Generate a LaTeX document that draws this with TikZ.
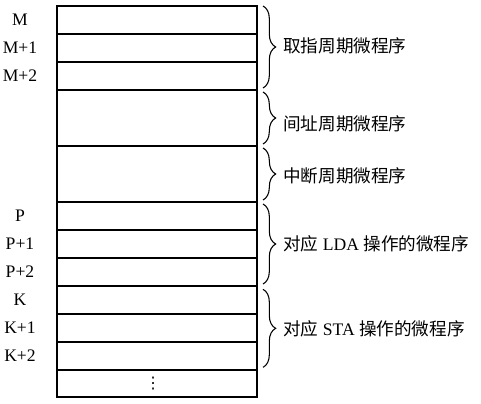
\documentclass[tikz,border=0pt]{standalone}
\usepackage{fontspec}
\setmainfont{Liberation Serif}
\newfontfamily\cjk{Noto Sans CJK SC}
\newfontfamily\symf{DejaVu Sans}
\usetikzlibrary{calc,positioning,decorations.pathreplacing}
\tikzset{
  cell/.style={draw, line width=1.1pt, minimum width=150pt, minimum height=21pt, inner sep=0pt, outer sep=0pt},
  bigcell/.style={cell, minimum height=42pt},
  addr/.style={font=\fontsize{13.2}{16}\selectfont, inner sep=0pt},
  note/.style={font=\fontsize{13.2}{16}\selectfont, inner sep=0pt, anchor=west},
  curly/.style={decorate, decoration={brace, amplitude=9.5pt}, line width=0.8pt}
}
\begin{document}
\begin{tikzpicture}[x=0.75pt,y=-0.75pt]
  \useasboundingbox (0,0) rectangle (481,403);

  % control store
  \node[cell] (m0) at (157,20) {};
  \node[cell, below=0pt of m0] (m1) {};
  \node[cell, below=0pt of m1] (m2) {};
  \node[bigcell, below=0pt of m2] (ind) {};
  \node[bigcell, below=0pt of ind] (intr) {};
  \node[cell, below=0pt of intr] (p0) {};
  \node[cell, below=0pt of p0] (p1) {};
  \node[cell, below=0pt of p1] (p2) {};
  \node[cell, below=0pt of p2] (k0) {};
  \node[cell, below=0pt of k0] (k1) {};
  \node[cell, below=0pt of k1] (k2) {};
  \node[cell, minimum height=20.25pt, below=0pt of k2] (rest) {};
  \node[inner sep=0pt, font=\symf\fontsize{12}{14}\selectfont] (dots) at ([xshift=-3pt]rest.center) {⋮};

  % addresses
  \node[addr] (lm0) at ([xshift=-27.75pt]m0.west) {M};
  \node[addr] (lm1) at ([xshift=-27.75pt]m1.west) {M+1};
  \node[addr] (lm2) at ([xshift=-27.75pt]m2.west) {M+2};
  \node[addr] (lp0) at ([xshift=-27.75pt]p0.west) {P};
  \node[addr] (lp1) at ([xshift=-27.75pt]p1.west) {P+1};
  \node[addr] (lp2) at ([xshift=-27.75pt]p2.west) {P+2};
  \node[addr] (lk0) at ([xshift=-27.75pt]k0.west) {K};
  \node[addr] (lk1) at ([xshift=-27.75pt]k1.west) {K+1};
  \node[addr] (lk2) at ([xshift=-27.75pt]k2.west) {K+2};

  % braces
  \coordinate (b1a) at ([xshift=4.5pt]m0.north east);
  \coordinate (b1b) at ([xshift=4.5pt,yshift=1.5pt]m2.south east);
  \coordinate (b2a) at ([xshift=4.5pt,yshift=-1.5pt]ind.north east);
  \coordinate (b2b) at ([xshift=4.5pt,yshift=1.5pt]ind.south east);
  \coordinate (b3a) at ([xshift=4.5pt,yshift=-1.5pt]intr.north east);
  \coordinate (b3b) at ([xshift=4.5pt,yshift=1.5pt]intr.south east);
  \coordinate (b4a) at ([xshift=4.5pt,yshift=-1.5pt]p0.north east);
  \coordinate (b4b) at ([xshift=4.5pt,yshift=1.5pt]p2.south east);
  \coordinate (b5a) at ([xshift=4.5pt,yshift=-2.5pt]k0.north east);
  \coordinate (b5b) at ([xshift=4.5pt,yshift=2pt]k2.south east);
  \draw[curly] (b1a) -- (b1b);
  \draw[curly] (b2a) -- (b2b);
  \draw[curly] (b3a) -- (b3b);
  \draw[curly] (b4a) -- (b4b);
  \draw[curly] (b5a) -- (b5b);

  % routine names
  \node[note] (fetch) at ($(b1a)!0.5!(b1b)+(15pt,1pt)$) {\cjk 取指周期微程序};
  \node[note] (indir) at ($(b2a)!0.5!(b2b)+(15pt,-4.5pt)$) {\cjk 间址周期微程序};
  \node[note] (inter) at ($(b3a)!0.5!(b3b)+(15pt,-1pt)$) {\cjk 中断周期微程序};
  \node[note] (lda) at ($(b4a)!0.5!(b4b)+(15pt,0pt)$) {{\cjk 对应} LDA {\cjk 操作的微程序}};
  \node[note] (sta) at ($(b5a)!0.5!(b5b)+(15pt,0pt)$) {{\cjk 对应} STA {\cjk 操作的微程序}};
\end{tikzpicture}
\end{document}
